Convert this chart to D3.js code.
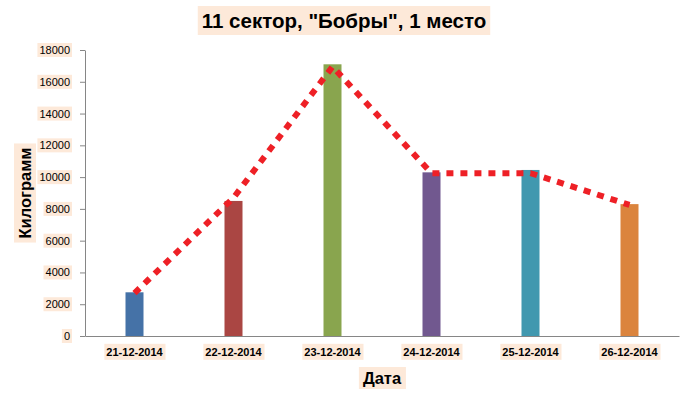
<!DOCTYPE html>
<html><head><meta charset="utf-8">
<script src="https://cdn.jsdelivr.net/npm/d3@7"></script>
<style>
html,body{margin:0;padding:0;background:#fff;}
svg{display:block;}
</style></head>
<body>
<svg id="c" width="689" height="399"></svg>
<script>
const categories = ["21-12-2014","22-12-2014","23-12-2014","24-12-2014","25-12-2014","26-12-2014"];
const barValues = [2750, 8500, 17100, 10300, 10450, 8300];
const lineValues = [2700, 8700, 16950, 10250, 10250, 8250];
const barColors = ["#4572A7","#AA4643","#89A54E","#71588F","#4198AF","#DB843D"];
const yTicks = [0,2000,4000,6000,8000,10000,12000,14000,16000,18000];
const titleText = "11 сектор, \"Бобры\", 1 место";
const yTitle = "Килограмм";
const xTitle = "Дата";

const BG = "#FDE9D9";
const FONT = "Liberation Sans, Arial, sans-serif";
const svg = d3.select("#c");
const m = {left:85, right:10, top:50, bottom:63};
const W = 689, H = 399;
const x = d3.scaleBand().domain(categories).range([m.left, W - m.right]);
const y = d3.scaleLinear().domain([0,18000]).range([H - m.bottom, m.top]);

function bgBox(sel, px, py){
  sel.each(function(){
    const b = this.getBBox();
    d3.select(this.parentNode).insert("rect", () => this)
      .attr("x", b.x - px).attr("y", b.y - py)
      .attr("width", b.width + 2*px).attr("height", b.height + 2*py)
      .attr("fill", BG);
  });
}

// bars
svg.append("g").selectAll("rect").data(barValues).join("rect")
  .attr("x", (d,i) => x(categories[i]) + x.bandwidth()/2 - 9)
  .attr("width", 18)
  .attr("y", d => y(d))
  .attr("height", d => y(0) - y(d))
  .attr("fill", (d,i) => barColors[i]);

// y axis
const ya = svg.append("g").attr("transform", `translate(${m.left},0)`)
  .call(d3.axisLeft(y).tickValues(yTicks).tickFormat(d3.format("d")).tickSize(5).tickSizeOuter(0).tickPadding(10));
ya.select(".domain").attr("stroke", "#868686");
ya.selectAll(".tick line").attr("stroke", "#868686");
ya.selectAll(".tick text").attr("font-family", FONT).attr("font-size", 11).attr("fill", "#000");
bgBox(ya.selectAll(".tick text"), 2, 1);

// x axis
const xa = svg.append("g").attr("transform", `translate(0,${y(0)})`)
  .call(d3.axisBottom(x).tickSize(0).tickSizeOuter(0).tickPadding(12));
xa.select(".domain").attr("stroke", "#868686");
xa.selectAll(".tick text").attr("font-family", FONT).attr("font-size", 11).attr("font-weight", "bold").attr("fill", "#000");
bgBox(xa.selectAll(".tick text"), 2, 2);

// line
svg.append("path").datum(lineValues)
  .attr("d", d3.line().x((d,i) => x(categories[i]) + x.bandwidth()/2).y(d => y(d)))
  .attr("fill", "none").attr("stroke", "#EE2026").attr("stroke-width", 6)
  .attr("stroke-dasharray", "7,7").attr("stroke-linecap", "butt");

// title
const t = svg.append("g");
t.append("text").attr("x", 344).attr("y", 28).attr("text-anchor", "middle")
  .attr("font-family", FONT).attr("font-weight", "bold").attr("font-size", 20.5)
  .text(titleText);
bgBox(t.selectAll("text"), 4, 3);

// y title
const yt = svg.append("g");
yt.append("text").attr("transform", "translate(31,193) rotate(-90)").attr("text-anchor", "middle")
  .attr("font-family", FONT).attr("font-weight", "bold").attr("font-size", 16.5)
  .text(yTitle);
yt.selectAll("text").each(function(){
  const b = this.getBBox();
  yt.insert("rect", "text").attr("transform", "translate(31,193) rotate(-90)")
    .attr("x", b.x - 4).attr("y", b.y - 2).attr("width", b.width + 8).attr("height", b.height + 4).attr("fill", BG);
});

// x title
const xt = svg.append("g");
xt.append("text").attr("x", 382).attr("y", 384).attr("text-anchor", "middle")
  .attr("font-family", FONT).attr("font-weight", "bold").attr("font-size", 16.5)
  .text(xTitle);
bgBox(xt.selectAll("text"), 4, 2);
</script>
</body></html>
